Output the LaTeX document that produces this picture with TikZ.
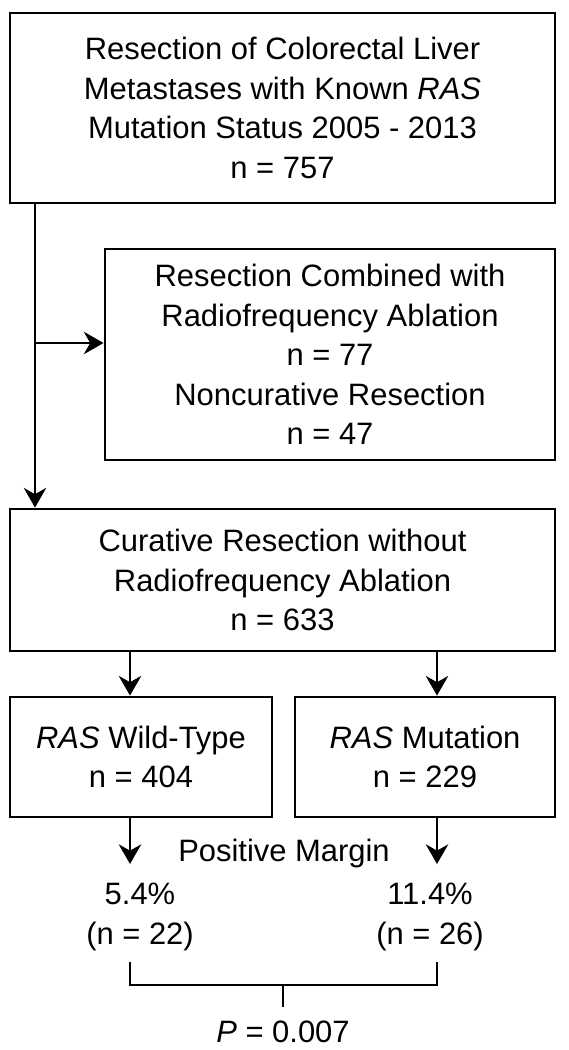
\documentclass[tikz,border=0pt]{standalone}
\usepackage{fontspec}
\setmainfont{Liberation Sans}
\usetikzlibrary{arrows.meta}

\tikzset{
  box/.style={draw, line width=2pt, align=center, inner sep=0pt},
  flow/.style={line width=1.4pt, -{Stealth[length=14pt, width=16pt, inset=4.5pt]}},
  bracket/.style={line width=1.6pt},
}

\begin{document}
\begin{tikzpicture}[x=0.025cm, y=-0.025cm, font=\fontsize{22}{28}\selectfont]
\useasboundingbox (0,0) rectangle (568,1050);
% boxes
\node[box, minimum width=13.625cm, minimum height=4.75cm] (all) at (282.5,108)
  {Resection of Colorectal Liver\\Metastases with Known \textit{RAS}\\Mutation Status 2005 - 2013\\n = 757};
\node[box, minimum width=11.25cm, minimum height=5.275cm] (excl) at (330,354.5)
  {Resection Combined with\\Radiofrequency Ablation\\n = 77\\Noncurative Resection\\n = 47};
\node[box, minimum width=13.625cm, minimum height=3.55cm] (cur) at (282.5,580)
  {Curative Resection without\\Radiofrequency Ablation\\n = 633};
\node[box, minimum width=6.55cm, minimum height=3cm] (wt) at (141,757)
  {\textit{RAS} Wild-Type\\n = 404};
\node[box, minimum width=6.5cm, minimum height=3cm] (mut) at (425,757)
  {\textit{RAS} Mutation\\n = 229};
% margin results
\node (pos) at (284,853) {Positive Margin};
\node[align=center] (wtpct) at (140,917) {5.4\%\\(n = 22)};
\node[align=center] (mutpct) at (430,917) {11.4\%\\(n = 26)};
\node (pval) at (283,1032) {\textit{P} = 0.007};
% columns
\coordinate (split) at (35,343);
\coordinate (lcol) at (130,0);
\coordinate (rcol) at (437,0);
\coordinate (lend) at (130,864);
\coordinate (rend) at (437,864);
\coordinate (mid) at (283,985);
\coordinate (tick) at (283,1007);
% connectors
\draw[flow] (all.south -| split) -- (cur.north -| split);
\draw[flow] (split) -- (split -| excl.west);
\draw[flow] (cur.south -| lcol) -- (wt.north -| lcol);
\draw[flow] (cur.south -| rcol) -- (mut.north -| rcol);
\draw[flow] (wt.south -| lcol) -- (lend);
\draw[flow] (mut.south -| rcol) -- (rend);
\draw[bracket] (130,962) -- (mid -| lcol) -- (mid -| rcol) -- (437,962);
\draw[bracket] (mid) -- (tick);
\end{tikzpicture}
\end{document}
